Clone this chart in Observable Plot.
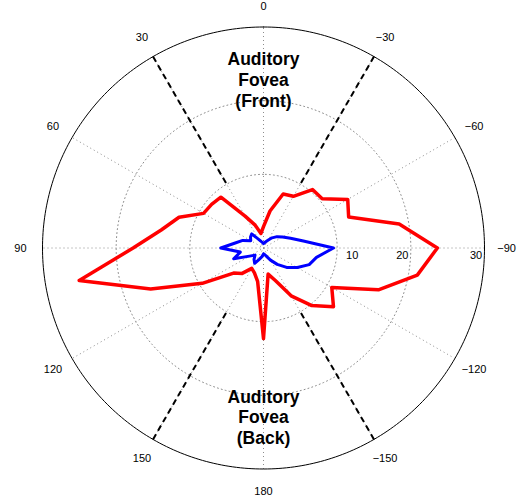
<!DOCTYPE html>
<html>
<head>
<meta charset="utf-8">
<script src="https://cdn.jsdelivr.net/npm/d3@7"></script>
<script src="https://cdn.jsdelivr.net/npm/@observablehq/plot@0.6"></script>
<style>
  body { margin: 0; background: #fff; }
  svg { display: block; }
</style>
</head>
<body>
<div id="chart"></div>
<script>
// Azimuth (degrees, 0 = front/up, positive = counter-clockwise / left)
const angles = [0, 10, 20, 30, 40, 50, 60, 70, 80, 90, 100, 110, 120, 130, 140, 150, 160, 170, 180,
  -170, -160, -150, -140, -130, -120, -110, -100, -90, -80, -70, -60, -50, -40, -30, -20, -10];
// Red series
const redValues = [2.9, 2.0, 3.3, 5.0, 9.0, 9.2, 9.4, 12.2, 14.1, 17.7, 25.4, 16.3, 9.6, 5.3, 4.5, 3.2, 3.6, 4.6, 12.3,
  3.6, 4.7, 7.5, 10.2, 12.4, 10.7, 16.6, 21.2, 23.6, 18.7, 12.3, 13.2, 10.4, 10.35, 8.1, 7.8, 5.1];
// Blue series
const blueValues = [0.6, 0.75, 0.95, 1.4, 2.5, 2.3, 2.0, 3.0, 3.9, 5.8, 3.2, 4.3, 2.2, 1.5, 2.0, 2.4, 1.6, 1.2, 0.8,
  0.9, 1.2, 1.9, 2.9, 4.1, 5.3, 6.6, 7.3, 9.5, 5.5, 3.9, 3.0, 2.4, 1.8, 1.2, 0.9, 0.7];

const thetaTicks = [0, 30, 60, 90, 120, 150, 180, -150, -120, -90, -60, -30];
const thetaTickLabels = ["0", "30", "60", "90", "120", "150", "180", "\u2212150", "\u2212120", "\u221290", "\u221260", "\u221230"];
const rTicks = [10, 20, 30];
const rTickLabels = ["10", "20", "30"];
const spokeAngles = [0, 30, 60, 90, 120, 150];
const foveaAngles = [30, -30, 150, -150];
const foveaInner = 10;
const annotationAngles = [0, 180];
const annotationTexts = ["Auditory\nFovea\n(Front)", "Auditory\nFovea\n(Back)"];
const rMax = 30;

// geometry helpers
const rad = d => d * Math.PI / 180;
const px = (deg, r) => -r * Math.sin(rad(deg));
const py = (deg, r) => r * Math.cos(rad(deg));

const W = 521, H = 503;
const cx = 263, cy = 247.5, R = 221;
const k = R / rMax;

function closedSeries(values, name) {
  const pts = angles.map((a, i) => ({a, r: values[i], s: name}));
  pts.push(pts[0]);
  return pts.map(p => ({x: px(p.a, p.r), y: py(p.a, p.r), s: p.s}));
}
const red = closedSeries(redValues, "red");
const blue = closedSeries(blueValues, "blue");

const circleSteps = d3.range(0, 361, 1);
const rings = rTicks.flatMap(r => circleSteps.map(a => ({x: px(a, r), y: py(a, r), r})));
const innerRings = rings.filter(d => d.r < rMax);
const outerRing = rings.filter(d => d.r === rMax);

const spokes = spokeAngles.map(a => ({x1: px(a, -rMax), y1: py(a, -rMax), x2: px(a, rMax), y2: py(a, rMax)}));
const fovea = foveaAngles.map(a => ({x1: px(a, rMax), y1: py(a, rMax), x2: px(a, foveaInner), y2: py(a, foveaInner)}));
const topLimit = (cy - 6) / k; // keep the top label inside the picture
const thetaLabels = thetaTicks.map((a, i) => ({x: px(a, rMax * 1.1), y: Math.min(py(a, rMax * 1.1), topLimit), t: thetaTickLabels[i]}));
const rLabels = rTicks.map((r, i) => ({x: r + (r === 10 ? 15 : -8.5) / k, y: -7.5 / k, t: rTickLabels[i]}));
const annotations = annotationAngles.map((a, i) => ({x: px(a, 22.9), y: py(a, 22.9), t: annotationTexts[i]}));

const font = "'Liberation Sans', Arial, Helvetica, sans-serif";

const chart = Plot.plot({
  width: W,
  height: H,
  margin: 0,
  style: {fontFamily: font, background: "#fff", overflow: "visible"},
  x: {domain: [-cx / k, (W - cx) / k], axis: null},
  y: {domain: [-(H - cy) / k, cy / k], axis: null},
  marks: [
    Plot.line(innerRings, {x: "x", y: "y", z: "r", stroke: "#8c8c8c", strokeWidth: 1, strokeDasharray: "1,3", curve: "linear"}),
    Plot.link(spokes, {x1: "x1", y1: "y1", x2: "x2", y2: "y2", stroke: "#8c8c8c", strokeWidth: 1, strokeDasharray: "1,3"}),
    Plot.line(outerRing, {x: "x", y: "y", stroke: "#000", strokeWidth: 1}),
    Plot.link(fovea, {x1: "x1", y1: "y1", x2: "x2", y2: "y2", stroke: "#000", strokeWidth: 2, strokeDasharray: "6,4"}),
    Plot.line(red, {x: "x", y: "y", stroke: "#ff0000", strokeWidth: 3.5, strokeLinejoin: "round"}),
    Plot.line(blue, {x: "x", y: "y", stroke: "#0000ff", strokeWidth: 3, strokeLinejoin: "round"}),
    Plot.text(thetaLabels, {x: "x", y: "y", text: "t", fontSize: 11, fill: "#000", textAnchor: "middle"}),
    Plot.text(rLabels, {x: "x", y: "y", text: "t", fontSize: 11, fill: "#000", textAnchor: "middle"}),
    Plot.text(annotations, {x: "x", y: "y", text: "t", fontSize: 17.5, fontWeight: "bold", lineHeight: 1.18, fill: "#000", textAnchor: "middle"})
  ]
});
document.getElementById("chart").appendChild(chart);
</script>
</body>
</html>
